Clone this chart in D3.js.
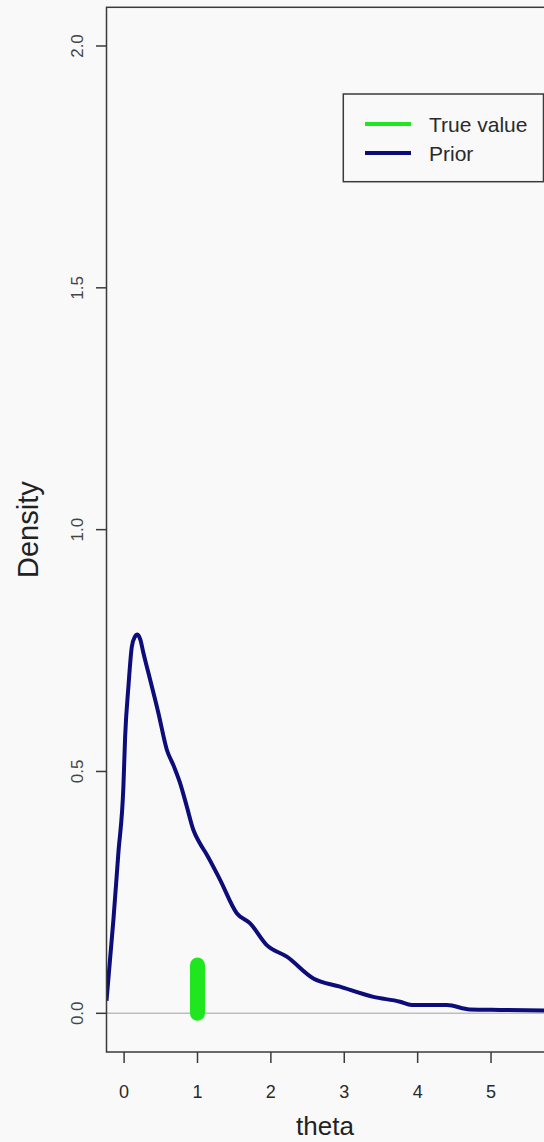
<!DOCTYPE html>
<html>
<head>
<meta charset="utf-8">
<script src="https://cdn.jsdelivr.net/npm/d3@7.9.0/dist/d3.min.js"></script>
<style>
  html, body { margin: 0; padding: 0; background: #f9f9f9; }
  svg { display: block; font-family: "Liberation Sans", Arial, sans-serif; }
</style>
</head>
<body>
<svg id="chart" width="544" height="1142"></svg>
<script>
// prior density curve
const thetaVals = [-0.24, -0.146, -0.078, -0.01, 0.014, 0.059, 0.105, 0.145, 0.181, 0.22, 0.263, 0.354,
                   0.467, 0.582, 0.68, 0.763, 0.85, 0.944, 1.03, 1.127, 1.308, 1.535, 1.717, 1.944, 2.217,
                   2.579, 2.943, 3.397, 3.76, 3.92, 4.40, 4.71, 5.12, 5.75];
const densityVals = [0.026, 0.193, 0.332, 0.468, 0.572, 0.676, 0.758, 0.778, 0.783, 0.773, 0.745, 0.690,
                     0.621, 0.545, 0.51, 0.476, 0.43, 0.379, 0.352, 0.328, 0.276, 0.207, 0.186, 0.141, 0.117,
                     0.072, 0.055, 0.034, 0.024, 0.017, 0.017, 0.008, 0.007, 0.006];

const trueValue = 1;
const trueHeight = [0, 0.1];

const xTicks = [0, 1, 2, 3, 4, 5];
const yTicks = [0, 0.5, 1, 1.5, 2];
const yTickLabels = ['0.0', '0.5', '1.0', '1.5', '2.0'];

const legendLabels = ['True value', 'Prior'];
const legendColors = ['#1fe61f', '#0c0c7a'];

const svg = d3.select('#chart');
const pLeft = 106.5, pRight = 543.5, pTop = 7.3, pBottom = 1052;

const x = d3.scaleLinear().domain([-0.24, 5.715]).range([pLeft, pRight]);
const y = d3.scaleLinear().domain([-0.08, 2.08]).range([pBottom, pTop]);

svg.append('rect').attr('width', 544).attr('height', 1142).attr('fill', '#f9f9f9');

svg.append('defs').append('clipPath').attr('id', 'plot-clip')
   .append('rect')
   .attr('x', pLeft).attr('y', pTop)
   .attr('width', 560 - pLeft).attr('height', pBottom - pTop);

const plot = svg.append('g').attr('clip-path', 'url(#plot-clip)');

// zero line
plot.append('line')
    .attr('x1', pLeft).attr('x2', 560)
    .attr('y1', y(0)).attr('y2', y(0))
    .attr('stroke', '#bdbdbd').attr('stroke-width', 1.5);

// true value
plot.append('line')
    .attr('x1', x(trueValue)).attr('x2', x(trueValue))
    .attr('y1', y(trueHeight[0])).attr('y2', y(trueHeight[1]))
    .attr('stroke', legendColors[0]).attr('stroke-width', 15)
    .attr('stroke-linecap', 'round');

// prior
const line = d3.line()
    .x((d, i) => x(thetaVals[i]))
    .y(d => y(d))
    .curve(d3.curveMonotoneX);
plot.append('path')
    .attr('d', line(densityVals))
    .attr('fill', 'none')
    .attr('stroke', legendColors[1])
    .attr('stroke-width', 4)
    .attr('stroke-linejoin', 'round');

// box (right side runs off the picture)
svg.append('rect')
   .attr('x', pLeft).attr('y', pTop)
   .attr('width', 560 - pLeft).attr('height', pBottom - pTop)
   .attr('fill', 'none').attr('stroke', '#3a3a3a').attr('stroke-width', 1.5);

// x axis
const xAxis = svg.append('g');
xAxis.selectAll('line').data(xTicks).join('line')
     .attr('x1', d => x(d)).attr('x2', d => x(d))
     .attr('y1', pBottom).attr('y2', pBottom + 11)
     .attr('stroke', '#3a3a3a').attr('stroke-width', 1.5);
xAxis.selectAll('text').data(xTicks).join('text')
     .attr('x', d => x(d)).attr('y', 1098)
     .attr('text-anchor', 'middle')
     .attr('font-size', 18).attr('fill', '#2a2a2a')
     .text(d => d);

// y axis
const yAxis = svg.append('g');
yAxis.selectAll('line').data(yTicks).join('line')
     .attr('x1', pLeft - 10.5).attr('x2', pLeft)
     .attr('y1', d => y(d)).attr('y2', d => y(d))
     .attr('stroke', '#3a3a3a').attr('stroke-width', 1.5);
yAxis.selectAll('text').data(yTicks).join('text')
     .attr('transform', d => `translate(83,${y(d)}) rotate(-90)`)
     .attr('text-anchor', 'middle')
     .attr('font-size', 17).attr('fill', '#444')
     .text((d, i) => yTickLabels[i]);

// axis titles
svg.append('text')
   .attr('x', (pLeft + pRight) / 2).attr('y', 1135)
   .attr('text-anchor', 'middle')
   .attr('font-size', 26).attr('fill', '#222')
   .text('theta');

svg.append('text')
   .attr('transform', `translate(38,${(pTop + pBottom) / 2}) rotate(-90)`)
   .attr('text-anchor', 'middle')
   .attr('font-size', 29).attr('fill', '#222')
   .text('Density');

// legend
const legend = svg.append('g');
legend.append('rect')
      .attr('x', 343.3).attr('y', 94)
      .attr('width', pRight - 343.3).attr('height', 87.7)
      .attr('fill', '#f9f9f9').attr('stroke', '#3a3a3a').attr('stroke-width', 1.5);
const items = legend.selectAll('g.item').data(legendLabels).join('g')
      .attr('class', 'item')
      .attr('transform', (d, i) => `translate(0,${124 + i * 29})`);
items.append('line')
     .attr('x1', 365).attr('x2', 411)
     .attr('stroke', (d, i) => legendColors[i]).attr('stroke-width', 4);
items.append('text')
     .attr('x', 429).attr('y', 7.5)
     .attr('font-size', 21).attr('fill', '#2a2a2a')
     .text(d => d);
</script>
</body>
</html>
